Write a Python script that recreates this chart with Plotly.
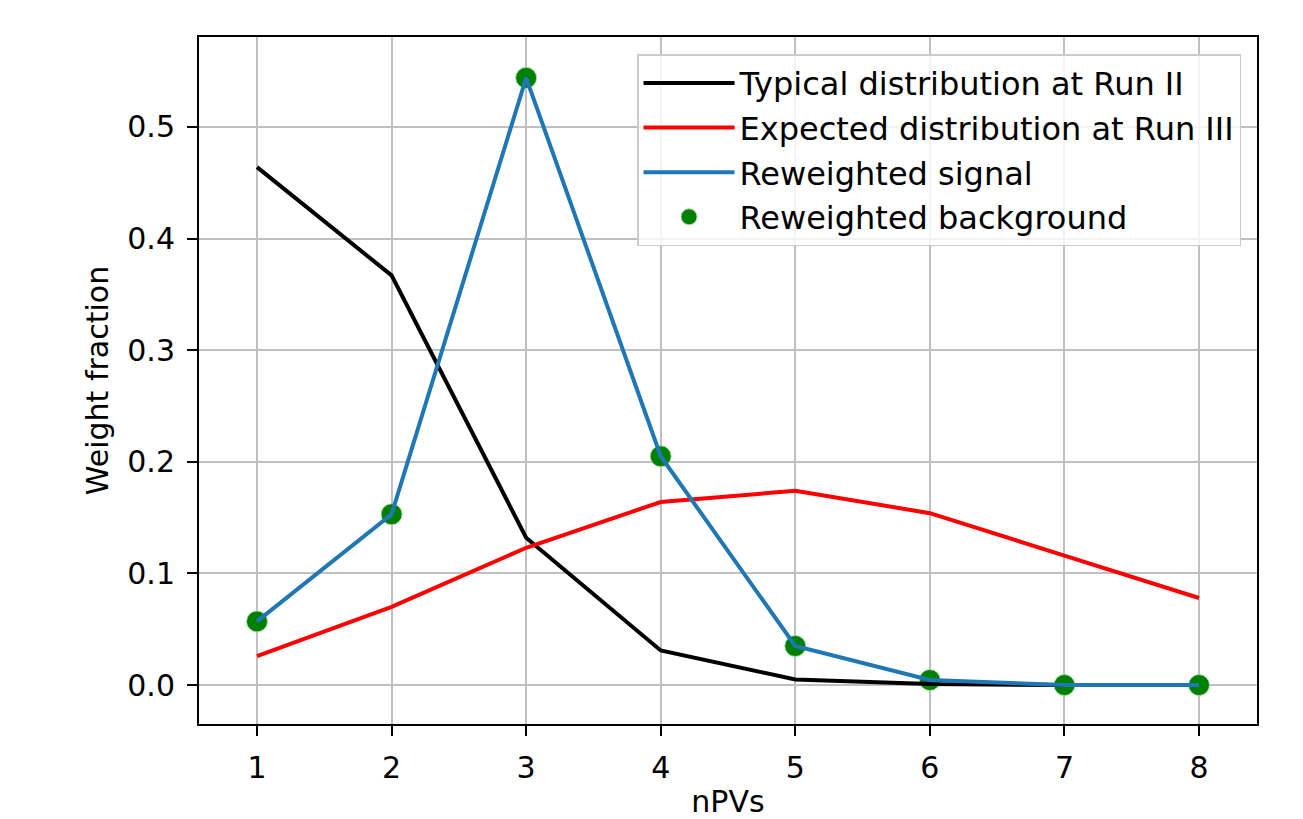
import plotly.graph_objects as go

npvs = [1, 2, 3, 4, 5, 6, 7, 8]
run2 = [0.464, 0.367, 0.132, 0.031, 0.005, 0.001, 0.0, 0.0]
run3 = [0.026, 0.070, 0.123, 0.164, 0.174, 0.154, 0.116, 0.078]
sig = [0.057, 0.153, 0.544, 0.205, 0.035, 0.0045, 0.0, 0.0]
bkg = [0.057, 0.153, 0.544, 0.205, 0.035, 0.0045, 0.0, 0.0]

FONT = "DejaVu Sans"
FS = 30

fig = go.Figure()
fig.add_trace(go.Scatter(x=npvs, y=bkg, mode="markers", name="Reweighted background",
                         marker=dict(color="green", size=21,
                                     line=dict(color="rgba(170,220,170,0.9)", width=1)),
                         legendrank=4))
fig.add_trace(go.Scatter(x=npvs, y=run2, mode="lines", name="Typical distribution at Run II",
                         line=dict(color="black", width=4), legendrank=1))
fig.add_trace(go.Scatter(x=npvs, y=run3, mode="lines", name="Expected distribution at Run III",
                         line=dict(color="red", width=4), legendrank=2))
fig.add_trace(go.Scatter(x=npvs, y=sig, mode="lines", name="Reweighted signal",
                         line=dict(color="#1f77b4", width=4), legendrank=3))

axis_common = dict(showline=True, linecolor="black", linewidth=2, mirror=True,
                   ticks="outside", ticklen=10, tickwidth=2, tickcolor="black",
                   showgrid=True, gridcolor="#c0c0c0", gridwidth=2, zeroline=False,
                   ticklabelstandoff=6, automargin=False,
                   tickfont=dict(family=FONT, size=FS, color="black"))

fig.update_xaxes(range=[0.569, 8.431], tickvals=npvs, ticktext=[str(v) for v in npvs],
                 title=dict(text="nPVs", font=dict(family=FONT, size=FS, color="black"), standoff=10),
                 **axis_common)
fig.update_yaxes(range=[-0.0349, 0.5806], tickvals=[0, 0.1, 0.2, 0.3, 0.4, 0.5], tickformat=".1f",
                 title=dict(text="Weight fraction", font=dict(family=FONT, size=FS, color="black"), standoff=10),
                 **axis_common)

fig.update_layout(
    width=1295, height=811,
    margin=dict(l=191, r=46, t=29, b=95),
    plot_bgcolor="white", paper_bgcolor="white",
    font=dict(family=FONT, size=FS, color="black"),
    legend=dict(x=0.414, y=0.975, xanchor="left", yanchor="top",
                bgcolor="rgba(255,255,255,0.8)", bordercolor="#cccccc", borderwidth=1.5,
                font=dict(family=FONT, size=32, color="black"),
                itemwidth=91, tracegroupgap=0),
    showlegend=True,
)

fig.write_html("out.html")
